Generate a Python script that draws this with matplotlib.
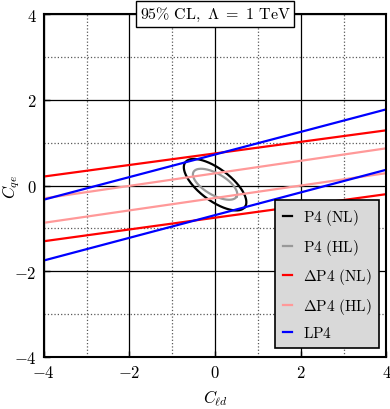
import numpy as np
import matplotlib.pyplot as plt
from matplotlib.ticker import MultipleLocator, FuncFormatter

plt.rcParams['mathtext.fontset'] = 'cm'
plt.rcParams['font.family'] = 'serif'
plt.rcParams['font.serif'] = ['DejaVu Serif']

# band edges: values at x = -4 and x = 4
x_ends = [-4, 4]
dp4_nl_up = [0.21, 1.29]
dp4_nl_lo = [-1.30, -0.20]
dp4_hl_up = [-0.30, 0.87]
dp4_hl_lo = [-0.87, 0.29]
lp4_up = [-0.33, 1.78]
lp4_lo = [-1.75, 0.37]

# ellipses: centre x, centre y, semi-major, semi-minor, angle (deg)
p4_nl = [0.0, 0.02, 0.87, 0.37, -37]
p4_hl = [0.0, 0.03, 0.58, 0.25, -30]


def ellipse(cx, cy, a, b, ang):
    t = np.linspace(0, 2 * np.pi, 300)
    r = np.deg2rad(ang)
    ex = cx + a * np.cos(t) * np.cos(r) - b * np.sin(t) * np.sin(r)
    ey = cy + a * np.cos(t) * np.sin(r) + b * np.sin(t) * np.cos(r)
    return ex, ey


fig = plt.figure(figsize=(3.9, 4.1), dpi=100)
ax = fig.add_axes([0.112, 0.127, 0.879, 0.836])

lw = 1.6
ex, ey = ellipse(*p4_nl)
ax.plot(ex, ey, color='black', lw=lw, label=r'$\mathrm{P4\ (NL)}$')
ex, ey = ellipse(*p4_hl)
ax.plot(ex, ey, color='#999999', lw=lw, label=r'$\mathrm{P4\ (HL)}$')

ax.plot(x_ends, dp4_nl_up, color='#ff0000', lw=lw, label=r'$\Delta\mathrm{P4\ (NL)}$')
ax.plot(x_ends, dp4_nl_lo, color='#ff0000', lw=lw)
ax.plot(x_ends, dp4_hl_up, color='#ff9999', lw=lw, label=r'$\Delta\mathrm{P4\ (HL)}$')
ax.plot(x_ends, dp4_hl_lo, color='#ff9999', lw=lw)
ax.plot(x_ends, lp4_up, color='#0000ff', lw=lw, label=r'$\mathrm{LP4}$')
ax.plot(x_ends, lp4_lo, color='#0000ff', lw=lw)

ax.set_xlim(-4, 4)
ax.set_ylim(-4, 4)
ax.xaxis.set_major_locator(MultipleLocator(2))
ax.yaxis.set_major_locator(MultipleLocator(2))
ax.xaxis.set_minor_locator(MultipleLocator(1))
ax.yaxis.set_minor_locator(MultipleLocator(1))
fmt = FuncFormatter(lambda v, p: r'$%g$' % v)
ax.xaxis.set_major_formatter(fmt)
ax.yaxis.set_major_formatter(fmt)
ax.tick_params(which='both', direction='in', labelsize=12)
ax.tick_params(which='major', length=4, width=1, pad=5)
ax.tick_params(which='minor', length=0)
ax.grid(which='major', color='black', lw=0.9, ls='-')
ax.grid(which='minor', color='0.35', lw=0.9, ls=':')
ax.set_axisbelow(True)
for s in ax.spines.values():
    s.set_linewidth(1.5)

ax.set_xlabel(r'$C_{\ell d}$', fontsize=12)
ax.set_ylabel(r'$C_{qe}$', fontsize=12)
ax.yaxis.set_label_coords(-0.062, 0.5)
ax.xaxis.set_label_coords(0.5, -0.088)

ax.text(0.5, 1.0, r'$\mathrm{95\%\ CL,}\ \Lambda\ =\ \mathrm{1\ TeV}$', transform=ax.transAxes,
        ha='center', va='center', fontsize=11.5, zorder=5,
        bbox=dict(boxstyle='square,pad=0.25', facecolor='white', edgecolor='black', lw=1))

leg = ax.legend(loc='lower right', bbox_to_anchor=(0.978, 0.026), borderaxespad=0,
                fontsize=11, fancybox=False, framealpha=1, facecolor='#d9d9d9',
                edgecolor='black', handlelength=0.6, handletextpad=0.7,
                labelspacing=0.62, borderpad=0.5)
leg.get_frame().set_linewidth(1.2)

fig.savefig('out.png', dpi=100)
